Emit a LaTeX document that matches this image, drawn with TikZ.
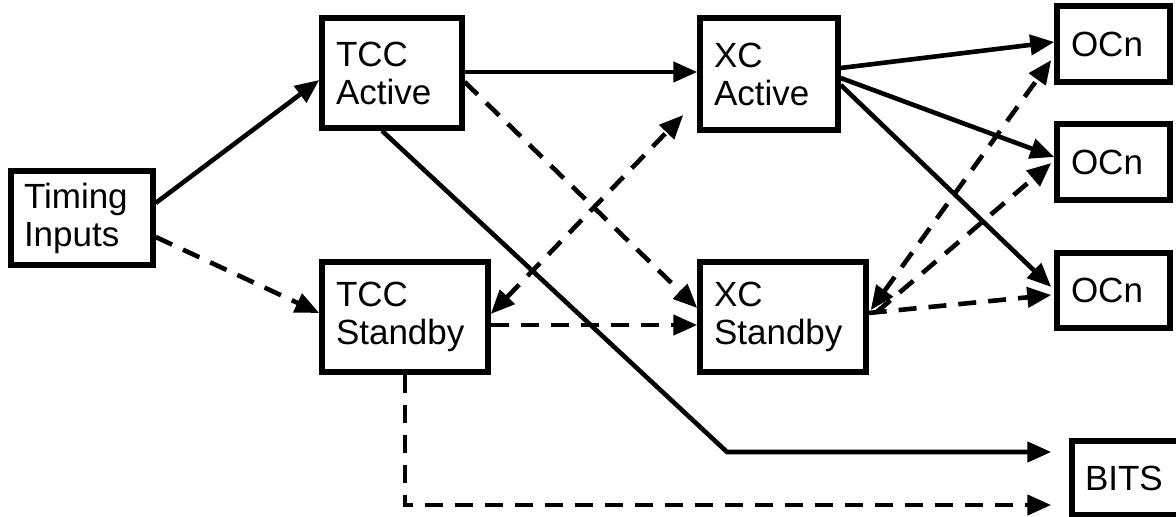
\documentclass[tikz,border=0pt]{standalone}
\usepackage{fontspec}
\setmainfont{Liberation Sans}
\usetikzlibrary{arrows.meta,calc}
\begin{document}
\begin{tikzpicture}[x=1pt,y=1pt,
  >={Triangle[length=24pt,width=20pt]},
  box/.style={draw,line width=5.5pt,inner sep=0pt,align=left,
    font=\fontsize{35}{38}\selectfont},
  sol/.style={line width=4.6pt,->},
  dsh/.style={line width=4.6pt,->,dash pattern=on 18pt off 12pt},
]
\useasboundingbox (0,0) rectangle (1176,517);
\fill[white] (0,0) rectangle (1176,517);
% nodes
\node[box,minimum width=142pt,minimum height=94pt,text width=116pt] (ti) at (82,299) {Timing\\Inputs};
\node[box,minimum width=140pt,minimum height=110pt,text width=112pt] (tcca) at (392,444) {TCC\\Active};
\node[box,minimum width=166pt,minimum height=110pt,text width=138pt] (tccs) at (405,200) {TCC\\Standby};
\node[box,minimum width=138pt,minimum height=112pt,text width=110pt] (xca) at (769,443) {XC\\Active};
\node[box,minimum width=166pt,minimum height=110pt,text width=138pt] (xcs) at (783,200) {XC\\Standby};
\node[box,minimum width=113pt,minimum height=76pt,text width=85pt] (o1) at (1113.5,473) {OCn};
\node[box,minimum width=113pt,minimum height=76pt,text width=85pt] (o2) at (1113.5,355) {OCn};
\node[box,minimum width=113pt,minimum height=75pt,text width=85pt] (o3) at (1113.5,226.5) {OCn};
\node[box,minimum width=110pt,minimum height=74pt,text width=84pt] (bits) at (1127,39) {BITS};
% connectors
\draw[sol] ($(ti.east)+(0,15)$) -- ($(tcca.west)+(0,-7)$);
\draw[dsh] ($(ti.east)+(0,-19)$) -- ($(tccs.west)+(0,4)$);
\draw[sol] ($(tcca.east)+(0,1)$) -- ($(xca.west)+(0,2)$);
\draw[dsh] ($(tcca.east)+(0,-9)$) -- ($(xcs.west)+(0,9)$);
\draw[dsh,<->] ($(tccs.east)+(0,3)$) -- ($(xca.west)+(-14,-41)$);
\draw[dsh] ($(tccs.east)+(0,-8)$) -- ($(xcs.west)+(0,-8)$);
\coordinate (b1) at (727,65);
\draw[sol,shorten >=18pt] ($(tcca.south)+(-10,0)$) -- (b1) -- (bits.west |- b1);
\coordinate (b2) at ($(tccs.south |- 0,12)$);
\draw[dsh,shorten >=18pt] (tccs.south) -- (b2) -- (bits.west |- b2);
\draw[sol] ($(xca.east)+(0,6)$) -- ($(o1.west)+(0,2)$);
\draw[sol] ($(xca.east)+(0,-4)$) -- ($(o2.west)+(0,5)$);
\draw[sol] ($(xca.east)+(0,-11)$) -- ($(o3.west)+(-3,3.5)$);
\draw[dsh,<->] ($(xcs.east)+(2,7)$) -- ($(o1.west)+(-3,-16)$);
\draw[dsh] ($(xcs.east)+(8,5)$) -- ($(o2.west)+(-3,-1)$);
\draw[dsh] ($(xcs.east)+(0,4)$) -- ($(o3.west)+(-3,-4.5)$);
\end{tikzpicture}
\end{document}
